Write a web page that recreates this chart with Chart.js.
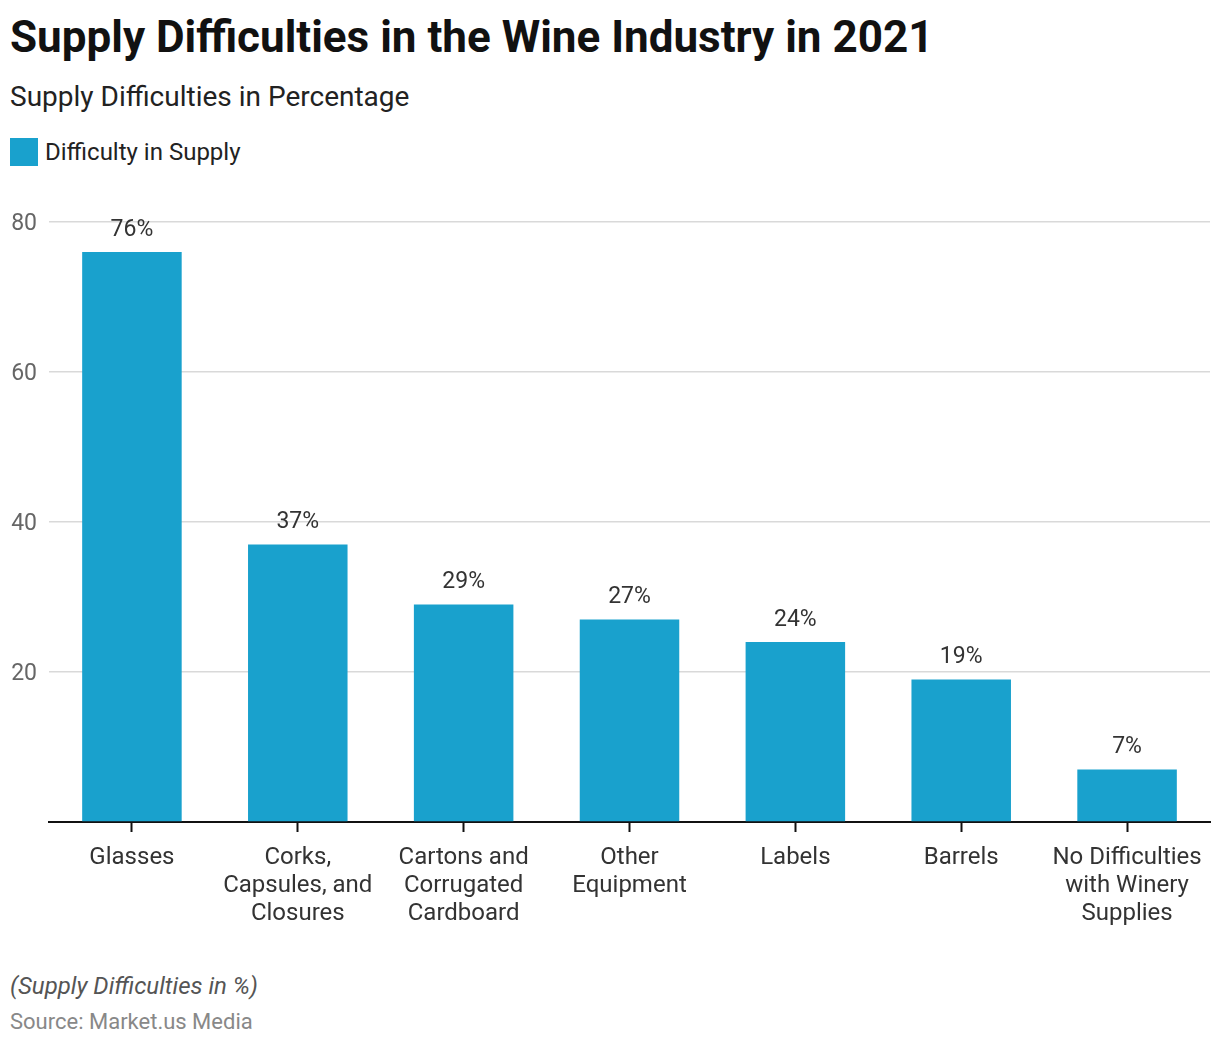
<!DOCTYPE html>
<html>
<head>
<meta charset="utf-8">
<script src="https://cdn.jsdelivr.net/npm/chart.js@4.4.1/dist/chart.umd.min.js"></script>
<style>
  body { margin: 0; background: #fff; font-family: Roboto, sans-serif; width: 1220px; height: 1048px; position: relative; overflow: hidden; }
  div { line-height: 1; }
  .title { position: absolute; left: 10px; top: 15px; font-size: 44px; font-weight: 700; color: #111; }
  .subtitle { position: absolute; left: 10px; top: 83px; font-size: 28px; color: #222; }
  .legend { position: absolute; left: 10px; top: 138px; height: 28px; font-size: 24px; color: #222; display: flex; align-items: center; }
  .legend span.box { width: 28px; height: 28px; background: #19a1cd; margin-right: 7px; display: inline-block; }
  .chart-wrap { position: absolute; left: 0; top: 190px; width: 1220px; height: 760px; }
  .note { position: absolute; left: 10px; top: 974px; font-size: 24px; font-style: italic; color: #555; }
  .source { position: absolute; left: 10px; top: 1011px; font-size: 22px; color: #888; }
</style>
</head>
<body>
<div class="title">Supply Difficulties in the Wine Industry in 2021</div>
<div class="subtitle">Supply Difficulties in Percentage</div>
<div class="legend"><span class="box"></span>Difficulty in Supply</div>
<div class="chart-wrap"><canvas id="supplyChart"></canvas></div>
<div class="note">(Supply Difficulties in %)</div>
<div class="source">Source: Market.us Media</div>

<script>
const categories = [
    ["Glasses"],
    ["Corks,", "Capsules, and", "Closures"],
    ["Cartons and", "Corrugated", "Cardboard"],
    ["Other", "Equipment"],
    ["Labels"],
    ["Barrels"],
    ["No Difficulties", "with Winery", "Supplies"]
];

const difficultyValues = [76, 37, 29, 27, 24, 19, 7];

const yTicks = [20, 40, 60, 80];

const barColor = '#19a1cd';

// draws "76%" etc. above each bar
const valueLabels = {
    id: 'valueLabels',
    afterDatasetsDraw(chart) {
        const ctx = chart.ctx;
        const meta = chart.getDatasetMeta(0);
        ctx.save();
        ctx.font = '23px Roboto';
        ctx.fillStyle = '#333';
        ctx.textAlign = 'center';
        ctx.textBaseline = 'middle';
        meta.data.forEach((bar, i) => {
            ctx.fillText(difficultyValues[i] + '%', bar.x, bar.y - 22);
        });
        ctx.restore();
    }
};

const supplyCtx = document.getElementById("supplyChart");

new Chart(supplyCtx, {
    type: 'bar',
    data: {
        labels: categories,
        datasets: [{
            label: 'Difficulty in Supply',
            data: difficultyValues,
            backgroundColor: barColor,
            barPercentage: 0.6,
            categoryPercentage: 1
        }]
    },
    options: {
        responsive: true,
        maintainAspectRatio: false,
        animation: false,
        layout: {
            padding: { top: 32, right: 10, left: 0, bottom: 0 }
        },
        plugins: {
            legend: { display: false },
            tooltip: { enabled: false }
        },
        scales: {
            x: {
                grid: {
                    display: true,
                    drawOnChartArea: false,
                    drawTicks: true,
                    tickLength: 10,
                    tickWidth: 2,
                    color: '#111',
                    offset: false
                },
                border: { color: '#111', width: 2 },
                ticks: {
                    color: '#333',
                    padding: 12,
                    maxRotation: 0,
                    autoSkip: false,
                    font: { family: 'Roboto', size: 24, lineHeight: 1.167 }
                },
                afterFit(scale) {
                    scale.height = 128;
                }
            },
            y: {
                min: 0,
                max: 80,
                afterBuildTicks(scale) {
                    scale.ticks = [0].concat(yTicks).map(v => ({ value: v }));
                },
                grid: {
                    color: '#d9d9d9',
                    lineWidth: 1.5,
                    drawTicks: false
                },
                border: { display: false },
                ticks: {
                    color: '#666',
                    padding: 12,
                    labelOffset: 2,
                    font: { family: 'Roboto', size: 23 },
                    callback: (v) => v === 0 ? '' : v
                },
                afterFit(scale) {
                    scale.width = 49;
                }
            }
        }
    },
    plugins: [valueLabels]
});
</script>
</body>
</html>
